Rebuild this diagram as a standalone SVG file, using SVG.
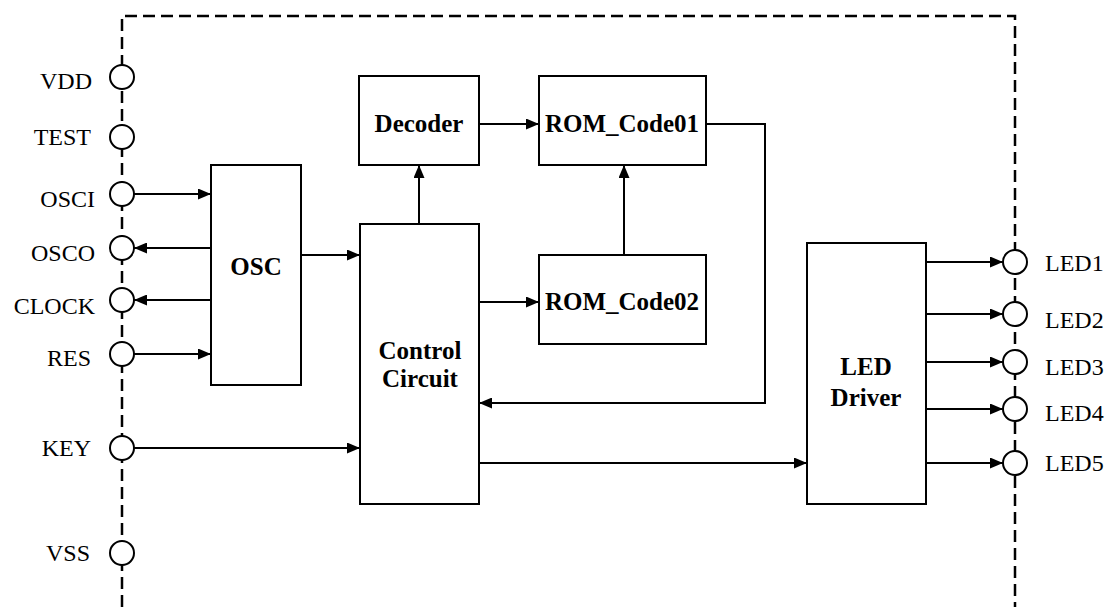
<svg xmlns="http://www.w3.org/2000/svg" width="1109" height="607" viewBox="0 0 1109 607">
<style>
.box{fill:#fff;stroke:#000;stroke-width:2}
.pin{fill:#fff;stroke:#000;stroke-width:2}
.lbl{font-family:"Liberation Serif","Times New Roman",serif;font-size:24px;fill:#000}
.bt{font-family:"Liberation Serif","Times New Roman",serif;font-size:25px;font-weight:bold;fill:#000;text-anchor:middle}
.wire{fill:none;stroke:#000;stroke-width:2;marker-end:url(#ah)}
.border{fill:none;stroke:#000;stroke-width:2.5;stroke-dasharray:12 6}
</style>
<defs>
<marker id="ah" markerUnits="userSpaceOnUse" markerWidth="13" markerHeight="11" refX="13" refY="5.5" orient="auto">
<path d="M0,0 L13,5.5 L0,11 z" fill="#000"/>
</marker>
</defs>
<rect width="1109" height="607" fill="#fff"/>
<g id="border">
<path class="border" d="M122,607 V16 H1015 V607"/>
</g>
<g id="connectors">
<path class="wire" d="M134,194 H211"/>
<path class="wire" d="M211,248 H134"/>
<path class="wire" d="M211,300 H134"/>
<path class="wire" d="M134,354 H211"/>
<path class="wire" d="M301,255 H360"/>
<path class="wire" d="M134,448 H360"/>
<path class="wire" d="M419,224 V165"/>
<path class="wire" d="M479,124 H539"/>
<path class="wire" d="M624,255 V165"/>
<path class="wire" d="M479,302 H539"/>
<path class="wire" d="M706,124 H765 V403 H479"/>
<path class="wire" d="M479,463 H807"/>
<path class="wire" d="M926,262 H1003"/>
<path class="wire" d="M926,314 H1003"/>
<path class="wire" d="M926,362 H1003"/>
<path class="wire" d="M926,409 H1003"/>
<path class="wire" d="M926,463 H1003"/>
</g>
<g id="pin-VDD"><circle class="pin" cx="122" cy="77" r="12"/><text class="lbl" x="92" y="89" text-anchor="end">VDD</text></g>
<g id="pin-TEST"><circle class="pin" cx="122" cy="137" r="12"/><text class="lbl" x="91" y="145" text-anchor="end">TEST</text></g>
<g id="pin-OSCI"><circle class="pin" cx="122" cy="194" r="12"/><text class="lbl" x="95" y="207" text-anchor="end">OSCI</text></g>
<g id="pin-OSCO"><circle class="pin" cx="122" cy="248" r="12"/><text class="lbl" x="95" y="261" text-anchor="end">OSCO</text></g>
<g id="pin-CLOCK"><circle class="pin" cx="122" cy="300" r="12"/><text class="lbl" x="95" y="314" text-anchor="end">CLOCK</text></g>
<g id="pin-RES"><circle class="pin" cx="122" cy="354" r="12"/><text class="lbl" x="91" y="366" text-anchor="end">RES</text></g>
<g id="pin-KEY"><circle class="pin" cx="122" cy="448" r="12"/><text class="lbl" x="91" y="456" text-anchor="end">KEY</text></g>
<g id="pin-VSS"><circle class="pin" cx="122" cy="553" r="12"/><text class="lbl" x="90" y="561" text-anchor="end">VSS</text></g>
<g id="osc"><rect class="box" x="211" y="165" width="90" height="220"/><text class="bt" x="256" y="275">OSC</text></g>
<g id="control"><rect class="box" x="360" y="224" width="119" height="280"/><text class="bt" x="420" y="359">Control</text><text class="bt" x="420" y="387">Circuit</text></g>
<g id="decoder"><rect class="box" x="359" y="76" width="120" height="89"/><text class="bt" x="419" y="132">Decoder</text></g>
<g id="rom01"><rect class="box" x="539" y="76" width="167" height="89"/><text class="bt" x="622" y="132">ROM_Code01</text></g>
<g id="rom02"><rect class="box" x="539" y="255" width="167" height="89"/><text class="bt" x="622" y="310">ROM_Code02</text></g>
<g id="leddriver"><rect class="box" x="807" y="243" width="119" height="261"/><text class="bt" x="866" y="375">LED</text><text class="bt" x="866" y="406">Driver</text></g>
<g id="pin-LED1"><circle class="pin" cx="1015" cy="262" r="12"/><text class="lbl" x="1045" y="271">LED1</text></g>
<g id="pin-LED2"><circle class="pin" cx="1015" cy="314" r="12"/><text class="lbl" x="1045" y="328">LED2</text></g>
<g id="pin-LED3"><circle class="pin" cx="1015" cy="362" r="12"/><text class="lbl" x="1045" y="375">LED3</text></g>
<g id="pin-LED4"><circle class="pin" cx="1015" cy="409" r="12"/><text class="lbl" x="1045" y="421">LED4</text></g>
<g id="pin-LED5"><circle class="pin" cx="1015" cy="463" r="12"/><text class="lbl" x="1045" y="471">LED5</text></g>
</svg>
